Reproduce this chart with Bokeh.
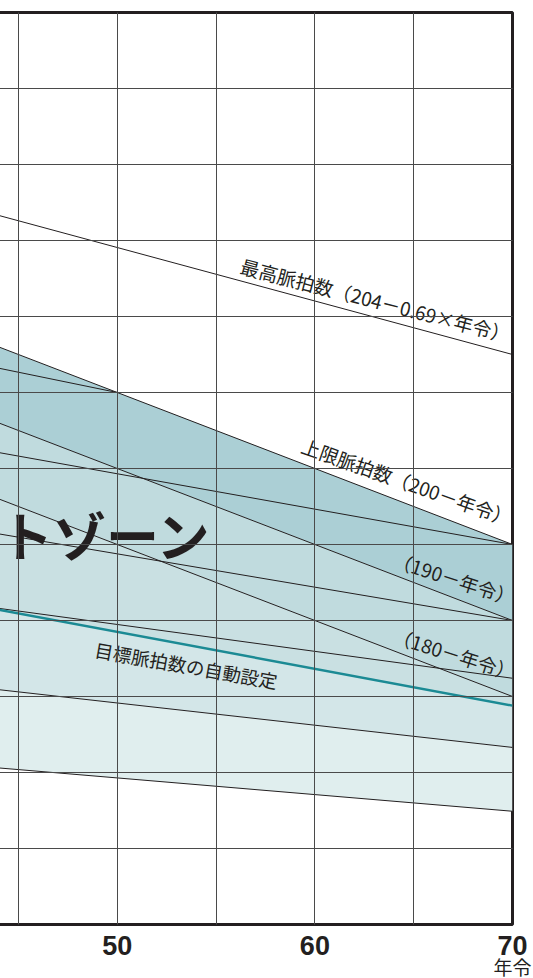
import numpy as np
from bokeh.plotting import figure
from bokeh.models import FixedTicker, LinearAxis, Range1d
from bokeh.embed import file_html
from bokeh.resources import INLINE
from bokeh.core.properties import value

# ---- data ----
ages = [44, 70]
max_hr = [173.3, 155.0]          # 204 - 0.69 x age
upper_limit = [156.0, 130.0]     # 200 - age
line_190 = [146.0, 120.0]        # 190 - age
line_180 = [136.0, 110.0]        # 180 - age
fan1_ages = [44, 50]
fan1 = [153.2, 150.0]
fan2 = [142.1, 130.0]
fan3 = [131.4, 120.0]
fan4 = [121.6, 112.4]
target_auto = [121.4, 108.8]     # 目標脈拍数の自動設定
fan5 = [110.9, 103.3]
lower_limit = [100.6, 94.9]

x_ticks = [50, 60, 70]
x_grid = [45, 50, 55, 60, 65]
y_grid = [90, 100, 110, 120, 130, 140, 150, 160, 170, 180, 190]
x_unit_tick = [70]
x_unit_label = {70: "年令"}

INK = "#231f20"
JP_NAME = "Noto Sans CJK JP"
JP = value(JP_NAME)

p = figure(frame_width=514, frame_height=912, x_range=Range1d(43.99, 70), y_range=Range1d(80, 200),
           output_backend="svg", toolbar_location=None,
           min_border_left=0, min_border_right=21, min_border_top=12, min_border_bottom=0)
p.styles = {"margin-left": "-2px", "margin-bottom": "-30px"}
p.background_fill_color = "white"
p.border_fill_color = "white"
p.outline_line_color = INK
p.outline_line_width = 3

p.yaxis.visible = False
p.xaxis.ticker = FixedTicker(ticks=x_ticks)
p.xaxis.axis_line_color = None
p.xaxis.major_tick_line_color = None
p.xaxis.minor_tick_line_color = None
p.xaxis.major_tick_out = 0
p.xaxis.major_tick_in = 0
p.xaxis.major_label_text_font = "Liberation Sans"
p.xaxis.major_label_text_font_style = "bold"
p.xaxis.major_label_text_font_size = "27px"
p.xaxis.major_label_text_color = INK
p.xaxis.major_label_standoff = 11

unit_axis = LinearAxis(ticker=FixedTicker(ticks=x_unit_tick), major_label_overrides=x_unit_label,
                       axis_line_color=None, major_tick_line_color=None, minor_tick_line_color=None,
                       major_tick_out=0, major_tick_in=0, major_label_standoff=-5,
                       major_label_text_font=JP_NAME, major_label_text_font_size="19px",
                       major_label_text_color=INK)
p.add_layout(unit_axis, "below")

p.xgrid.ticker = FixedTicker(ticks=x_grid)
p.ygrid.ticker = FixedTicker(ticks=y_grid)
p.grid.grid_line_color = "#4a4a4a"
p.grid.grid_line_width = 1
p.grid.level = "overlay"

# ---- shaded bands ----
p.varea(x=ages, y1=line_190, y2=upper_limit, fill_color="#abcfd5")
p.varea(x=ages, y1=line_180, y2=line_190, fill_color="#c0dbde")
p.varea(x=ages, y1=target_auto, y2=line_180, fill_color="#c9e0e2")
p.varea(x=ages, y1=fan5, y2=target_auto, fill_color="#d3e6e8")
p.varea(x=ages, y1=lower_limit, y2=fan5, fill_color="#e0eeee")

# ---- lines ----
for ys in [max_hr, upper_limit, line_190, line_180, fan2, fan3, fan4, fan5, lower_limit]:
    p.line(ages, ys, line_color=INK, line_width=1)
p.line(fan1_ages, fan1, line_color=INK, line_width=1)
p.line(ages, target_auto, line_color="#1b8a94", line_width=2.5)

# ---- labels along lines ----
def at(series, age):
    return float(np.interp(age, ages, series))

labels = [
    ("最高脈拍数（204－0.69×年令）", 56.1, max_hr, -14.5, -2),
    ("上限脈拍数（200－年令）", 59.15, upper_limit, -19.5, -5),
    ("（190－年令）", 63.8, line_190, -18.0, -2),
    ("（180－年令）", 63.8, line_180, -17.5, -2),
]
for txt, a, series, ang, dy in labels:
    p.text(x=[a], y=[at(series, a)], text=[txt], angle=ang, angle_units="deg",
           text_font=JP, text_font_size="19px", text_color=INK,
           text_align="left", text_baseline="bottom", y_offset=dy)

p.text(x=[49.0], y=[at(target_auto, 49.0)], text=["目標脈拍数の自動設定"], angle=-10,
       angle_units="deg", text_font=JP, text_font_size="18.5px", text_color=INK,
       text_align="left", text_baseline="top", y_offset=8)

p.text(x=[44.07], y=[131.4], text=["トゾーン"], text_font=JP, text_font_size="53px",
       text_font_style="bold", text_color=INK, text_align="left", text_baseline="middle")

open("out.html", "w").write(file_html(p, INLINE))
